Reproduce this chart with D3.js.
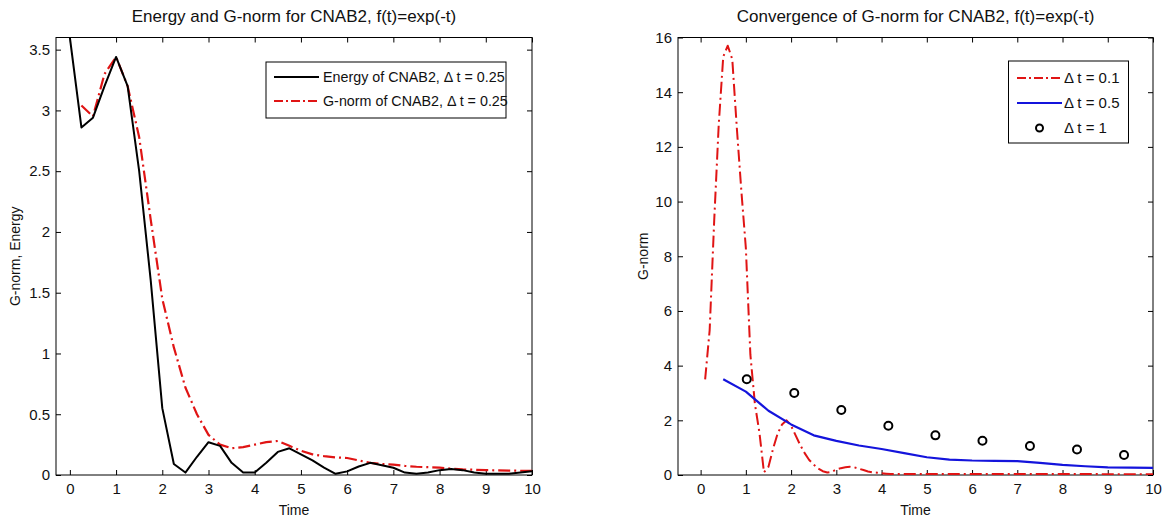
<!DOCTYPE html>
<html>
<head>
<meta charset="utf-8">
<script src="https://cdn.jsdelivr.net/npm/d3@7.9.0/dist/d3.min.js"></script>
<style>
  body { margin: 0; background: #fff; }
  svg text { font-family: "Liberation Sans", Arial, sans-serif; fill: #111; }
</style>
</head>
<body>
<svg id="chart" width="1162" height="520"></svg>
<script>
// ---- left panel data, dt = 0.25
const tEnergy = [0, 0.25, 0.5, 0.75, 1, 1.25, 1.5, 1.75, 2, 2.25, 2.5, 2.75, 3, 3.25, 3.5, 3.75, 4, 4.25, 4.5, 4.75,
  5, 5.25, 5.5, 5.75, 6, 6.25, 6.5, 6.75, 7, 7.25, 7.5, 7.75, 8, 8.25, 8.5, 8.75, 9, 9.25, 9.5, 9.75, 10];
const energy = [3.6, 2.86, 2.94, 3.2, 3.44, 3.2, 2.5, 1.6, 0.55, 0.09, 0.02, 0.15, 0.27, 0.24, 0.1, 0.02, 0.02, 0.1, 0.19, 0.22,
  0.17, 0.12, 0.06, 0.01, 0.03, 0.07, 0.1, 0.08, 0.06, 0.02, 0.01, 0.02, 0.04, 0.05, 0.04, 0.02, 0.01, 0.01, 0.01, 0.02, 0.03];
const tGnorm = tEnergy.slice(1);
const gnorm = [3.04, 2.95, 3.3, 3.44, 3.2, 2.78, 2.1, 1.45, 1.05, 0.72, 0.5, 0.33, 0.25, 0.22, 0.23, 0.25, 0.27, 0.28, 0.24,
  0.2, 0.17, 0.155, 0.145, 0.14, 0.12, 0.1, 0.09, 0.085, 0.075, 0.068, 0.064, 0.06, 0.053, 0.046, 0.043, 0.04, 0.038, 0.036, 0.035, 0.035];

// ---- right panel data
const t01 = [0.1, 0.2, 0.3, 0.4, 0.5, 0.6, 0.7, 0.8, 0.9, 1, 1.1, 1.2, 1.3, 1.4, 1.5, 1.6, 1.7, 1.8, 1.9, 2,
  2.1, 2.2, 2.3, 2.4, 2.5, 2.6, 2.7, 2.8, 2.9, 3, 3.1, 3.2, 3.3, 3.4, 3.5, 3.6, 3.7, 3.8, 3.9, 4,
  4.1, 4.2, 4.5, 5, 5.5, 6, 6.5, 7, 7.5, 8, 8.5, 9, 9.5, 10];
const g01 = [3.5, 5.3, 9.3, 12.8, 15.3, 15.7, 15.2, 12.7, 10.4, 8.3, 4.4, 2.6, 1.55, 0.1, 0.3, 0.95, 1.5, 1.85, 2.0, 1.8,
  1.45, 1.1, 0.8, 0.55, 0.38, 0.24, 0.14, 0.09, 0.12, 0.2, 0.25, 0.28, 0.3, 0.28, 0.23, 0.18, 0.13, 0.1, 0.085, 0.06,
  0.05, 0.04, 0.04, 0.04, 0.04, 0.04, 0.04, 0.04, 0.035, 0.035, 0.035, 0.03, 0.03, 0.03];
const t05 = [0.5, 1, 1.5, 2, 2.5, 3, 3.5, 4, 4.5, 5, 5.5, 6, 6.5, 7, 7.5, 8, 8.5, 9, 9.5, 10];
const g05 = [3.5, 3.05, 2.35, 1.85, 1.45, 1.25, 1.08, 0.95, 0.8, 0.65, 0.56, 0.53, 0.52, 0.51, 0.44, 0.37, 0.32, 0.28, 0.27, 0.26];
const t1 = [1.02, 2.07, 3.11, 4.15, 5.19, 6.23, 7.28, 8.32, 9.36];
const g1 = [3.5, 3.0, 2.38, 1.8, 1.45, 1.25, 1.06, 0.93, 0.73];

const xTicks = [0, 1, 2, 3, 4, 5, 6, 7, 8, 9, 10];
const yTicksLeft = [0, 0.5, 1, 1.5, 2, 2.5, 3, 3.5];
const yTicksRight = [0, 2, 4, 6, 8, 10, 12, 14, 16];

const svg = d3.select('#chart');
svg.append('rect').attr('width', 1162).attr('height', 520).attr('fill', '#fff');

const RED = '#e01414', BLUE = '#1414dc', BLACK = '#000';
const DASHDOT = '12,4,2,4';
const fmt = d => String(d);

function panel(id, box, xDom, yDom, yTicks, title, ylab, ylabX) {
  const x = d3.scaleLinear().domain(xDom).range([box.x0, box.x1]);
  const y = d3.scaleLinear().domain(yDom).range([box.y1, box.y0]);
  const g = svg.append('g');

  g.append('text')
    .attr('x', (box.x0 + box.x1) / 2).attr('y', 22)
    .attr('text-anchor', 'middle').attr('font-size', 17)
    .text(title);

  g.append('g').attr('transform', `translate(0,${box.y1})`)
    .call(d3.axisBottom(x).tickValues(xTicks).tickFormat(fmt).tickSizeInner(-5).tickSizeOuter(0).tickPadding(8))
    .call(a => a.select('.domain').remove());
  g.append('g').attr('transform', `translate(0,${box.y0})`)
    .call(d3.axisTop(x).tickValues(xTicks).tickSizeInner(-5).tickSizeOuter(0).tickFormat(''))
    .call(a => a.select('.domain').remove());
  g.append('g').attr('transform', `translate(${box.x0},0)`)
    .call(d3.axisLeft(y).tickValues(yTicks).tickFormat(fmt).tickSizeInner(-5).tickSizeOuter(0).tickPadding(6))
    .call(a => a.select('.domain').remove());
  g.append('g').attr('transform', `translate(${box.x1},0)`)
    .call(d3.axisRight(y).tickValues(yTicks).tickSizeInner(-5).tickSizeOuter(0).tickFormat(''))
    .call(a => a.select('.domain').remove());
  g.selectAll('.tick text').attr('font-size', 15).attr('fill', '#111')
    .attr('font-family', '"Liberation Sans", Arial, sans-serif');
  g.selectAll('.tick line').attr('stroke', '#000');

  g.append('rect')
    .attr('x', box.x0).attr('y', box.y0)
    .attr('width', box.x1 - box.x0).attr('height', box.y1 - box.y0)
    .attr('fill', 'none').attr('stroke', '#000');

  g.append('text')
    .attr('x', (box.x0 + box.x1) / 2).attr('y', 515)
    .attr('text-anchor', 'middle').attr('font-size', 14)
    .text('Time');
  g.append('text')
    .attr('transform', `translate(${ylabX},${(box.y0 + box.y1) / 2}) rotate(-90)`)
    .attr('text-anchor', 'middle').attr('font-size', 14)
    .text(ylab);

  svg.append('clipPath').attr('id', id)
    .append('rect').attr('x', box.x0).attr('y', box.y0)
    .attr('width', box.x1 - box.x0).attr('height', box.y1 - box.y0);
  const plot = svg.append('g').attr('clip-path', `url(#${id})`);
  return { x, y, plot };
}

function addLine(p, ts, vs, color, width, dash) {
  const line = d3.line().x((d, i) => p.x(ts[i])).y(d => p.y(d));
  p.plot.append('path')
    .attr('d', line(vs))
    .attr('fill', 'none')
    .attr('stroke', color)
    .attr('stroke-width', width)
    .attr('stroke-linejoin', 'round')
    .attr('stroke-dasharray', dash || null);
}

function legend(box, rows) {
  const g = svg.append('g');
  g.append('rect')
    .attr('x', box.x).attr('y', box.y).attr('width', box.w).attr('height', box.h)
    .attr('fill', '#fff').attr('stroke', '#000');
  rows.forEach((r, i) => {
    const yy = box.y + box.first + i * box.step;
    if (r.marker) {
      g.append('circle').attr('cx', (box.lx0 + box.lx1) / 2).attr('cy', yy).attr('r', 3.5)
        .attr('fill', 'none').attr('stroke', r.color).attr('stroke-width', 2);
    } else {
      g.append('line').attr('x1', box.lx0).attr('x2', box.lx1).attr('y1', yy).attr('y2', yy)
        .attr('stroke', r.color).attr('stroke-width', 2).attr('stroke-dasharray', r.dash || null);
    }
    g.append('text').attr('x', box.tx).attr('y', yy).attr('dy', '0.35em')
      .attr('font-size', box.fs).text(r.label);
  });
}

// left panel
const L = panel('clipL', { x0: 56, x1: 532, y0: 37.5, y1: 475 }, [-0.3, 10], [0, 3.6], yTicksLeft,
  'Energy and G-norm for CNAB2, f(t)=exp(-t)', 'G-norm, Energy', 20);
addLine(L, tGnorm, gnorm, RED, 2.2, DASHDOT);
addLine(L, tEnergy, energy, BLACK, 2);
legend({ x: 266, y: 62, w: 240, h: 56, first: 15, step: 24, lx0: 274, lx1: 319, tx: 323, fs: 14.3 }, [
  { label: 'Energy of CNAB2, \u0394 t = 0.25', color: BLACK },
  { label: 'G-norm of CNAB2, \u0394 t = 0.25', color: RED, dash: '9,3,2,3' }
]);

// right panel
const R = panel('clipR', { x0: 678, x1: 1153, y0: 37.5, y1: 475 }, [-0.5, 10], [0, 16], yTicksRight,
  'Convergence of G-norm for CNAB2, f(t)=exp(-t)', 'G-norm', 648);
addLine(R, t01, g01, RED, 2, DASHDOT);
addLine(R, t05, g05, BLUE, 2.2);
R.plot.selectAll('circle.dt1')
  .data(g1)
  .join('circle')
  .attr('class', 'dt1')
  .attr('cx', (d, i) => R.x(t1[i]))
  .attr('cy', d => R.y(d))
  .attr('r', 4)
  .attr('fill', 'none')
  .attr('stroke', BLACK)
  .attr('stroke-width', 2);
legend({ x: 1008.5, y: 61, w: 120, h: 82, first: 17, step: 25, lx0: 1017, lx1: 1062, tx: 1064, fs: 15 }, [
  { label: '\u0394 t = 0.1', color: RED, dash: '9,3,2,3' },
  { label: '\u0394 t = 0.5', color: BLUE },
  { label: '\u0394 t = 1', color: BLACK, marker: true }
]);
</script>
</body>
</html>
